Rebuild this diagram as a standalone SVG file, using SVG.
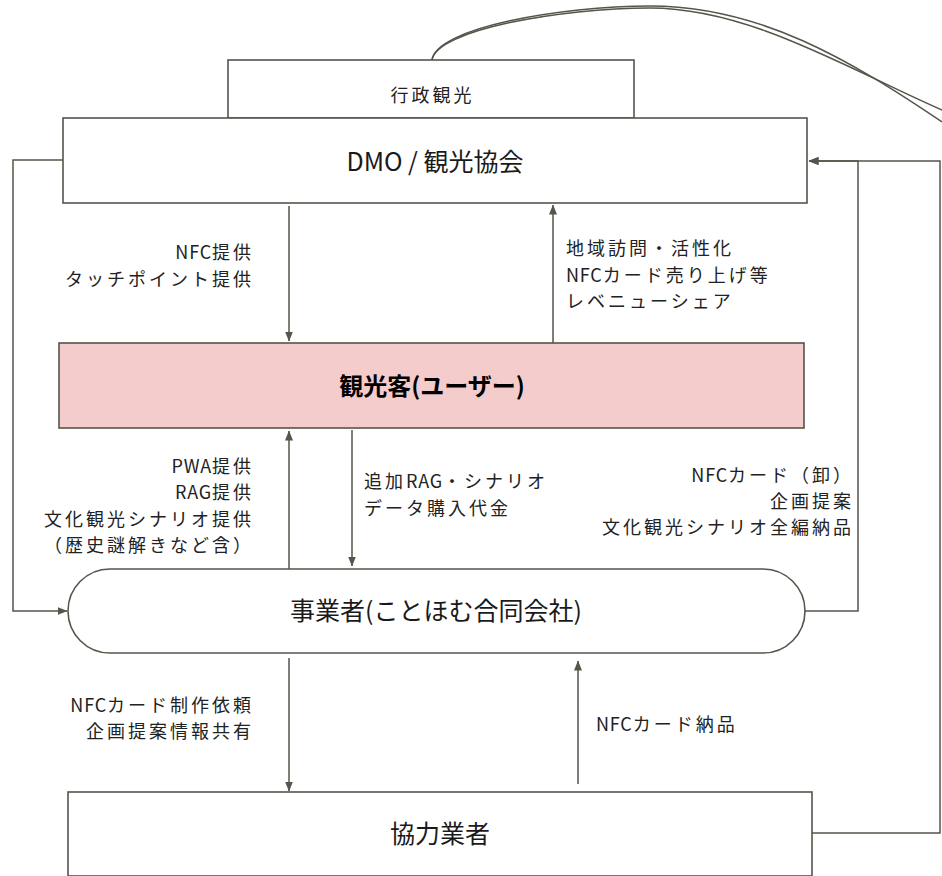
<svg xmlns="http://www.w3.org/2000/svg" width="942" height="876" viewBox="0 0 942 876">
<style>
.box{fill:#ffffff;stroke:#55554b;stroke-width:1.6}
.pink{fill:#f4cccc;stroke:#55554b;stroke-width:1.6}
.ln{fill:none;stroke:#55554b;stroke-width:1.5}
.nt{font-family:"Noto Sans CJK JP","Noto Sans",sans-serif;font-size:25px;fill:#1a1a1a;text-anchor:middle}
.lb{font-family:"Noto Sans CJK JP","Noto Sans",sans-serif;font-size:18px;letter-spacing:3px;fill:#222222}
.la{letter-spacing:0.8px}
.r{text-anchor:end}
</style>
<defs>
<marker id="ah" markerWidth="10" markerHeight="8" refX="9.5" refY="4" orient="auto" markerUnits="userSpaceOnUse">
<path d="M0,0 L10,4 L0,8 z" fill="#55554b"/>
</marker>
</defs>
<rect width="942" height="876" fill="#ffffff"/>
<g id="connectors">
<path class="ln" d="M432,60 C436,30 560,8 650,8 C750,8 850,70 942,110"/>
<path class="ln" d="M432,60 C436,28 560,6 650,6 C760,6 850,60 942,122"/>
<path class="ln" d="M289,206 V341" marker-end="url(#ah)"/>
<path class="ln" d="M553,343 V205" marker-end="url(#ah)"/>
<path class="ln" d="M289,569 V431" marker-end="url(#ah)"/>
<path class="ln" d="M352,430 V566" marker-end="url(#ah)"/>
<path class="ln" d="M289,658 V791" marker-end="url(#ah)"/>
<path class="ln" d="M578,784 V661" marker-end="url(#ah)"/>
<path class="ln" d="M63,160 H13 V611 H67" marker-end="url(#ah)"/>
<path class="ln" d="M805,611 H858 V161 H809" marker-end="url(#ah)"/>
<path class="ln" d="M812,833 H940 V161 H809" marker-end="url(#ah)"/>
</g>
<g id="gyosei">
<rect class="box" x="228" y="60" width="406" height="58"/>
<text class="lb" x="432.5" y="102" text-anchor="middle">行政観光</text>
</g>
<g id="dmo">
<rect class="box" x="63" y="118" width="744" height="85"/>
<text class="nt" x="435" y="171">DMO / 観光協会</text>
</g>
<g id="user">
<rect class="pink" x="59" y="343" width="745" height="85"/>
<text class="nt" x="432" y="395" font-weight="bold" style="font-size:24px;fill:#000">観光客(ユーザー)</text>
</g>
<g id="jigyosha">
<rect class="box" x="68" y="569" width="737" height="84" rx="42"/>
<text class="nt" x="436" y="620">事業者(ことほむ合同会社)</text>
</g>
<g id="kyoryoku">
<rect class="box" x="68" y="792" width="744" height="84"/>
<text class="nt" x="440" y="843">協力業者</text>
</g>
<g id="labels">
<text class="lb r" x="254" y="259.4"><tspan class="la">NFC</tspan>提供</text>
<text class="lb r" x="254" y="285.6">タッチポイント提供</text>
<text class="lb" x="566" y="255.3">地域訪問・活性化</text>
<text class="lb" x="566" y="281.5"><tspan class="la">NFC</tspan>カード売り上げ等</text>
<text class="lb" x="566" y="307.7">レベニューシェア</text>
<text class="lb r" x="254" y="473.2"><tspan class="la">PWA</tspan>提供</text>
<text class="lb r" x="254" y="499.4"><tspan class="la">RAG</tspan>提供</text>
<text class="lb r" x="254" y="525.6">文化観光シナリオ提供</text>
<text class="lb r" x="254" y="551.8">（歴史謎解きなど含）</text>
<text class="lb" x="364" y="488.4">追加<tspan class="la">RAG</tspan>・シナリオ</text>
<text class="lb" x="364" y="514.6">データ購入代金</text>
<text class="lb r" x="854" y="481.5"><tspan class="la">NFC</tspan>カード（卸）</text>
<text class="lb r" x="854" y="507.7">企画提案</text>
<text class="lb r" x="854" y="533.9">文化観光シナリオ全編納品</text>
<text class="lb r" x="254" y="711.9"><tspan class="la">NFC</tspan>カード制作依頼</text>
<text class="lb r" x="254" y="738.1">企画提案情報共有</text>
<text class="lb" x="596" y="731"><tspan class="la">NFC</tspan>カード納品</text>
</g>
</svg>
